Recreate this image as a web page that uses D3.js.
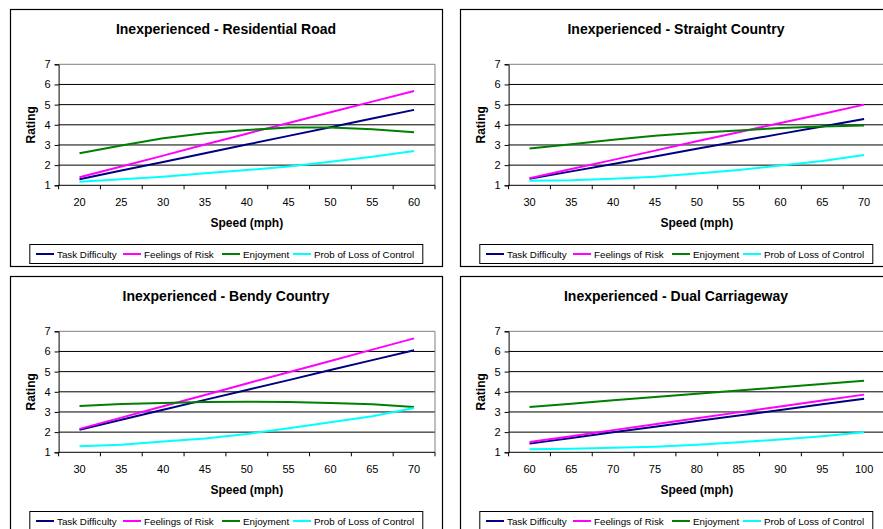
<!DOCTYPE html>
<html><head><meta charset="utf-8">
<script src="https://cdn.jsdelivr.net/npm/d3@7"></script>
<style>
body{margin:0;background:#fff;overflow:hidden;}
svg{display:block;}
text{font-family:"Liberation Sans",Arial,sans-serif;fill:#000;}
</style>
</head><body><svg id="c" width="883" height="529"></svg>
<script>
// ---- data ----
const seriesNames = ["Task Difficulty", "Feelings of Risk", "Enjoyment", "Prob of Loss of Control"];
const seriesColors = ["#000080", "#FF00FF", "#008000", "#00FFFF"];
const panelTitles = ["Inexperienced - Residential Road", "Inexperienced - Straight Country",
                     "Inexperienced - Bendy Country", "Inexperienced - Dual Carriageway"];
const yTicks = [1, 2, 3, 4, 5, 6, 7];

const residentialSpeeds = [20, 25, 30, 35, 40, 45, 50, 55, 60];
const residentialTask = [1.30, 1.73, 2.16, 2.59, 3.02, 3.45, 3.88, 4.31, 4.74];
const residentialRisk = [1.40, 1.93, 2.47, 3.02, 3.56, 4.09, 4.62, 5.15, 5.68];
const residentialEnjoy = [2.59, 2.97, 3.33, 3.58, 3.74, 3.86, 3.86, 3.78, 3.63];
const residentialLoss = [1.17, 1.30, 1.43, 1.60, 1.76, 1.93, 2.17, 2.42, 2.70];

const straightSpeeds = [30, 35, 40, 45, 50, 55, 60, 65, 70];
const straightTask = [1.32, 1.69, 2.06, 2.43, 2.81, 3.18, 3.55, 3.92, 4.29];
const straightRisk = [1.35, 1.81, 2.26, 2.72, 3.18, 3.63, 4.09, 4.54, 5.00];
const straightEnjoy = [2.83, 3.04, 3.26, 3.46, 3.60, 3.72, 3.84, 3.92, 3.97];
const straightLoss = [1.23, 1.25, 1.32, 1.43, 1.58, 1.76, 1.98, 2.21, 2.50];

const bendySpeeds = [30, 35, 40, 45, 50, 55, 60, 65, 70];
const bendyTask = [2.12, 2.61, 3.11, 3.60, 4.09, 4.58, 5.08, 5.57, 6.06];
const bendyRisk = [2.16, 2.72, 3.28, 3.84, 4.41, 4.97, 5.53, 6.09, 6.65];
const bendyEnjoy = [3.30, 3.40, 3.45, 3.50, 3.51, 3.50, 3.45, 3.38, 3.25];
const bendyLoss = [1.30, 1.38, 1.53, 1.69, 1.91, 2.19, 2.49, 2.79, 3.20];

const dualSpeeds = [60, 65, 70, 75, 80, 85, 90, 95, 100];
const dualTask = [1.43, 1.71, 1.99, 2.27, 2.55, 2.82, 3.10, 3.38, 3.66];
const dualRisk = [1.51, 1.80, 2.10, 2.39, 2.69, 2.98, 3.27, 3.57, 3.86];
const dualEnjoy = [3.25, 3.41, 3.58, 3.74, 3.90, 4.06, 4.23, 4.39, 4.55];
const dualLoss = [1.15, 1.17, 1.22, 1.28, 1.38, 1.50, 1.64, 1.80, 1.99];

const panels = [
  {title: panelTitles[0], speeds: residentialSpeeds, series: [residentialTask, residentialRisk, residentialEnjoy, residentialLoss]},
  {title: panelTitles[1], speeds: straightSpeeds, series: [straightTask, straightRisk, straightEnjoy, straightLoss]},
  {title: panelTitles[2], speeds: bendySpeeds, series: [bendyTask, bendyRisk, bendyEnjoy, bendyLoss]},
  {title: panelTitles[3], speeds: dualSpeeds, series: [dualTask, dualRisk, dualEnjoy, dualLoss]}
];

// ---- layout ----
const svg = d3.select("#c");
const origins = [[10, 9], [460, 9], [10, 276], [460, 276]];
const FW = 432, FH = 257;
const PL = 48.6, PT = 55.3, PW = 376.4, PH = 121;
const legendX = [6.7, 93.7, 192.7, 263.7];

panels.forEach((p, i) => {
  const [ox, oy] = origins[i];
  const g = svg.append("g").attr("transform", `translate(${ox},${oy})`);
  g.append("rect").attr("x", 0.5).attr("y", 0.5).attr("width", FW).attr("height", FH)
    .attr("fill", "#fff").attr("stroke", "#000").attr("stroke-width", 1.2);

  g.append("text").attr("x", FW / 2).attr("y", 24.5).attr("text-anchor", "middle")
    .attr("font-size", "14px").attr("font-weight", "bold").text(p.title);

  const x = d3.scaleBand().domain(p.speeds).range([PL, PL + PW]).padding(0);
  const y = d3.scaleLinear().domain([1, 7]).range([PT + PH, PT]);
  const cx = s => x(s) + x.bandwidth() / 2;

  // gridlines
  g.selectAll(".grid").data(yTicks.filter(t => t > 1 && t < 7)).enter().append("line")
    .attr("x1", PL).attr("x2", PL + PW).attr("y1", d => y(d)).attr("y2", d => y(d))
    .attr("stroke", "#000").attr("stroke-width", 1);
  // plot border (top & right, gray)
  g.append("path").attr("d", `M${PL},${y(7)}H${PL + PW}V${y(1)}`)
    .attr("fill", "none").attr("stroke", "#808080").attr("stroke-width", 1);

  // y axis
  const ya = d3.axisLeft(y).tickValues(yTicks).tickSize(4).tickPadding(4).tickFormat(d3.format("d"));
  const yg = g.append("g").attr("transform", `translate(${PL},0)`).call(ya);
  yg.select(".domain").attr("stroke", "#000");
  yg.selectAll("text").attr("font-size", "11px").attr("font-family", '"Liberation Sans",Arial,sans-serif');

  // x axis: labels centred in categories, ticks at category boundaries
  const xa = d3.axisBottom(x).tickSize(0).tickPadding(13);
  const xg = g.append("g").attr("transform", `translate(0,${y(1)})`).call(xa);
  xg.select(".domain").remove();
  xg.selectAll("text").attr("font-size", "11px").attr("font-family", '"Liberation Sans",Arial,sans-serif');
  const bounds = p.speeds.map(s => x(s)).concat([PL + PW]);
  g.append("line").attr("x1", PL).attr("x2", PL + PW).attr("y1", y(1)).attr("y2", y(1)).attr("stroke", "#000");
  g.selectAll(".xt").data(bounds).enter().append("line")
    .attr("x1", d => d).attr("x2", d => d).attr("y1", y(1)).attr("y2", y(1) + 4).attr("stroke", "#000");

  // axis titles
  g.append("text").attr("x", PL + PW / 2).attr("y", 217.8).attr("text-anchor", "middle")
    .attr("font-size", "12px").attr("font-weight", "bold").text("Speed (mph)");
  g.append("text").attr("transform", `translate(25,${PT + PH / 2}) rotate(-90)`).attr("text-anchor", "middle")
    .attr("font-size", "12px").attr("font-weight", "bold").text("Rating");

  // series lines
  const line = d3.line().x((d, j) => cx(p.speeds[j])).y(d => y(d));
  p.series.forEach((vals, k) => {
    g.append("path").datum(vals).attr("d", line).attr("fill", "none")
      .attr("stroke", seriesColors[k]).attr("stroke-width", 2).attr("stroke-linejoin", "round");
  });

  // legend
  const lg = g.append("g").attr("transform", "translate(19.3,235)");
  lg.append("rect").attr("x", 0.5).attr("y", 0.5).attr("width", 393).attr("height", 19)
    .attr("fill", "#fff").attr("stroke", "#000").attr("stroke-width", 1);
  seriesNames.forEach((n, k) => {
    lg.append("line").attr("x1", legendX[k]).attr("x2", legendX[k] + 18)
      .attr("y1", 10).attr("y2", 10).attr("stroke", seriesColors[k]).attr("stroke-width", 2);
    lg.append("text").attr("x", legendX[k] + 21).attr("y", 13.5)
      .attr("font-size", "9.8px").text(n);
  });
});
</script>
</body></html>
